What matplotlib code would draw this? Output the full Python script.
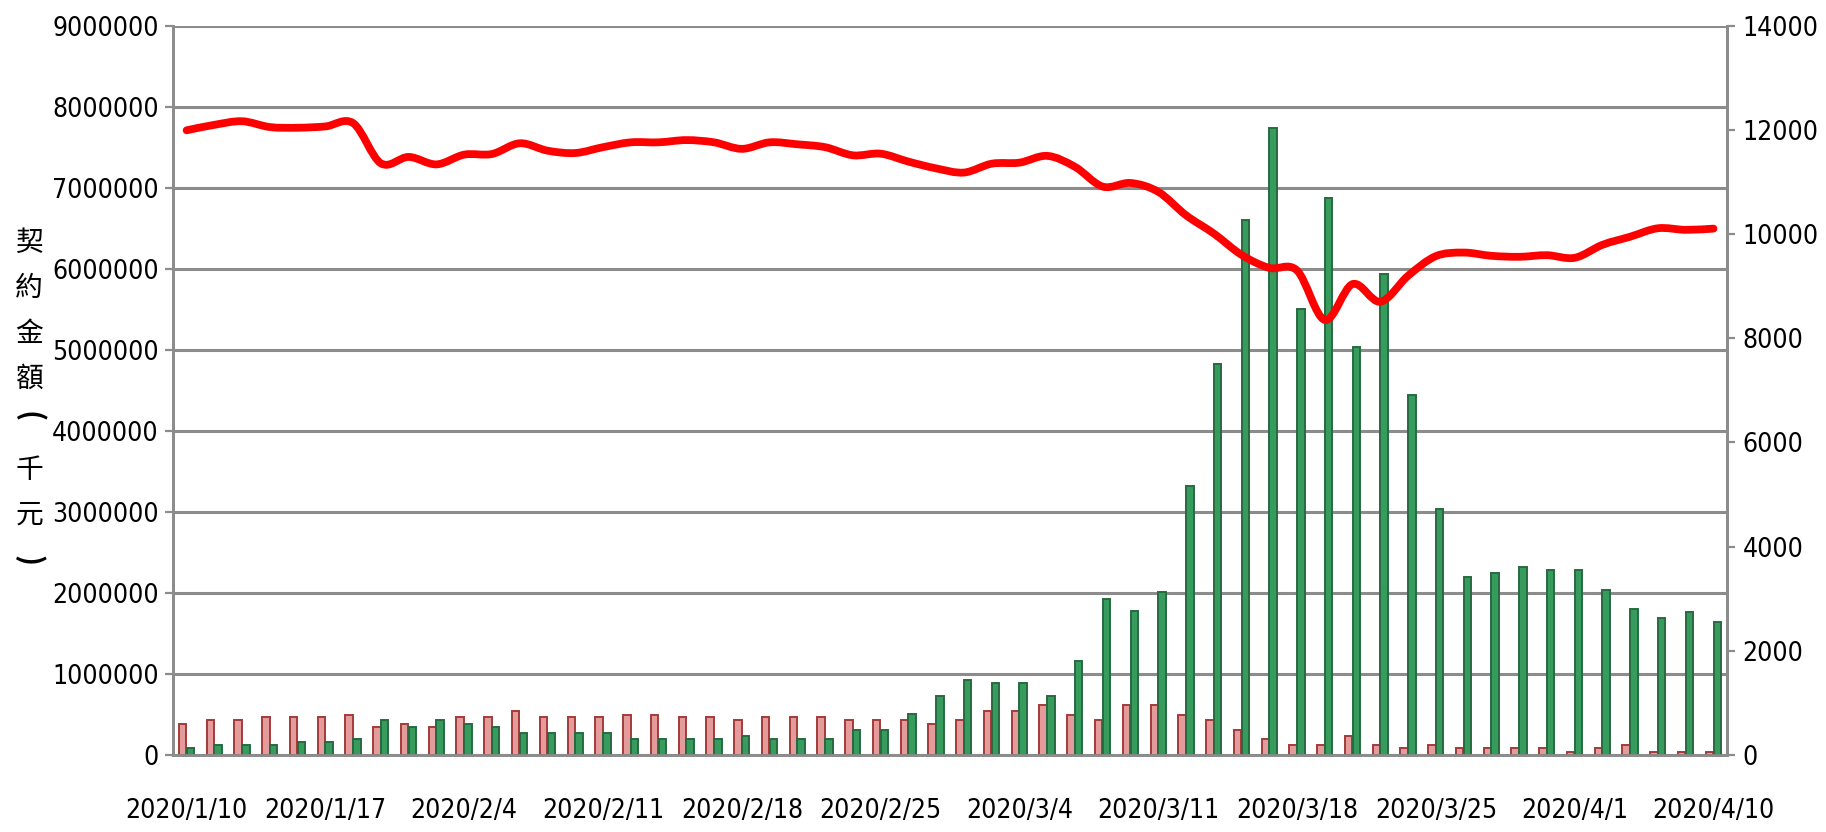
import numpy as np
import matplotlib
matplotlib.use('Agg')
import matplotlib.pyplot as plt
from matplotlib import font_manager as fm
from matplotlib.font_manager import FontProperties
from matplotlib.path import Path
from matplotlib.patches import PathPatch
from matplotlib.ticker import FuncFormatter

# ---------------------
# 資料
# ---------------------
dates = ['2020/1/10', '2020/1/13', '2020/1/14', '2020/1/15', '2020/1/16', '2020/1/17',
         '2020/1/20', '2020/1/30', '2020/1/31', '2020/2/3', '2020/2/4',
         '2020/2/5', '2020/2/6', '2020/2/7', '2020/2/10', '2020/2/11',
         '2020/2/12', '2020/2/13', '2020/2/14', '2020/2/17', '2020/2/18',
         '2020/2/19', '2020/2/20', '2020/2/21', '2020/2/24', '2020/2/25',
         '2020/2/26', '2020/2/27', '2020/3/2', '2020/3/3', '2020/3/4',
         '2020/3/5', '2020/3/6', '2020/3/9', '2020/3/10', '2020/3/11',
         '2020/3/12', '2020/3/13', '2020/3/16', '2020/3/17', '2020/3/18',
         '2020/3/19', '2020/3/20', '2020/3/23', '2020/3/24', '2020/3/25',
         '2020/3/26', '2020/3/27', '2020/3/30', '2020/3/31', '2020/4/1',
         '2020/4/6', '2020/4/7', '2020/4/8', '2020/4/9', '2020/4/10']

# 粉紅柱 (千元)
amount_red = [388000, 428000, 428000, 464000, 464000, 464000,
              500000, 352000, 388000, 352000, 464000,
              464000, 540000, 464000, 464000, 464000,
              500000, 500000, 464000, 464000, 428000,
              464000, 464000, 464000, 428000, 428000,
              428000, 388000, 428000, 544000, 544000,
              616000, 500000, 428000, 616000, 616000,
              500000, 428000, 312000, 200000, 120000,
              120000, 240000, 120000, 84000, 120000,
              84000, 84000, 84000, 84000, 42000,
              84000, 120000, 42000, 42000, 42000]

# 綠柱 (千元)
amount_green = [84000, 120000, 120000, 120000, 160000, 160000,
                200000, 428000, 352000, 428000, 388000,
                352000, 276000, 276000, 276000, 276000,
                200000, 200000, 200000, 200000, 236000,
                200000, 200000, 200000, 312000, 312000,
                504000, 732000, 924000, 888000, 888000,
                732000, 1156000, 1925000, 1780000, 2010000,
                3320000, 4830000, 6600000, 7740000, 5500000,
                6870000, 5030000, 5930000, 4440000, 3040000,
                2200000, 2240000, 2320000, 2280000, 2280000,
                2040000, 1800000, 1690000, 1770000, 1640000]

# 紅線 (右軸)
index_line = [11991, 12096, 12165, 12053, 12040, 12065,
              12128, 11356, 11480, 11337, 11524,
              11536, 11742, 11600, 11555, 11667,
              11760, 11760, 11803, 11760, 11635,
              11760, 11722, 11667, 11511, 11542,
              11390, 11260, 11180, 11350, 11370,
              11500, 11290, 10910, 10980, 10810,
              10360, 10010, 9600, 9350, 9300,
              8350, 9040, 8700, 9200, 9576,
              9644, 9582, 9563, 9594, 9544,
              9793, 9949, 10111, 10080, 10104]

label_step = 5
ylabel_chars = ['契', '約', '金', '額', '(', '千', '元', ')']

# ---------------------
# 字型: 盡量找窄體
# ---------------------
narrow = None
for f in fm.fontManager.ttflist:
    if f.style != 'normal' or f.weight not in (400, 'normal', 'regular'):
        continue
    if 'Narrow' in f.name or 'Condensed' in f.name or f.stretch in ('condensed', 'semi-condensed'):
        narrow = f.fname
        break
if narrow:
    base_fp = FontProperties(fname=narrow)
else:
    base_fp = FontProperties(family='Liberation Sans')
cjk_font = ['Noto Sans CJK TC', 'DejaVu Sans']
grid_c = '#8c8c8c'

fig = plt.figure(figsize=(18.26, 8.32), dpi=100)

# 依原圖 "9000000" 寬度決定字級
r = fig.canvas.get_renderer()
probe = fig.text(0, 0, '9000000', fontproperties=base_fp.copy())
probe.set_fontsize(10)
num_size = min(10 * 106 / probe.get_window_extent(r).width, 26)
probe.remove()
num_fp = base_fp.copy()
num_fp.set_size(num_size)

ax = fig.add_axes([0.0946, 0.0925, 0.8514, 0.8767])
ax2 = ax.twinx()

x = np.arange(len(dates))
w = 0.27
ax.bar(x - w / 2 - 0.01, amount_red, width=w, color='#e39c9b', edgecolor='#a33b3a', linewidth=1.4, zorder=3)
ax.bar(x + w / 2, amount_green, width=w, color='#379b5d', edgecolor='#276b41', linewidth=1.4, zorder=3)

ax.set_xlim(-0.5, len(dates) - 0.5)
ax.set_ylim(0, 9000000)
ax.set_yticks(np.arange(0, 9000001, 1000000))
ax.yaxis.set_major_formatter(FuncFormatter(lambda v, p: f'{int(v)}'))
ax.set_axisbelow(True)
ax.yaxis.grid(True, color=grid_c, linewidth=2.2)

ax.set_xticks(x[::label_step])
ax.set_xticklabels(dates[::label_step])
ax.tick_params(axis='x', length=0, pad=31)
ax.tick_params(axis='y', length=6, width=1.6, color=grid_c, pad=4)

ax.spines['top'].set_visible(False)
ax2.spines['top'].set_visible(False)
for a in (ax, ax2):
    for s in ['left', 'right', 'bottom']:
        a.spines[s].set_color(grid_c)
        a.spines[s].set_linewidth(2.0)

# 右軸
ax2.set_ylim(0, 14000)
ax2.set_yticks(np.arange(0, 14001, 2000))
ax2.tick_params(axis='y', length=6, width=1.6, color=grid_c, pad=5)

# 平滑紅線 (Catmull-Rom -> Bezier)
yv = np.array(index_line, dtype=float)
pts = np.column_stack([x, yv])
verts = [tuple(pts[0])]
codes = [Path.MOVETO]
n = len(pts)
for i in range(n - 1):
    p0 = pts[max(i - 1, 0)]
    p1 = pts[i]
    p2 = pts[i + 1]
    p3 = pts[min(i + 2, n - 1)]
    c1 = p1 + (p2 - p0) / 6
    c2 = p2 - (p3 - p1) / 6
    verts += [tuple(c1), tuple(c2), tuple(p2)]
    codes += [Path.CURVE4] * 3
ax2.add_patch(PathPatch(Path(verts, codes), fill=False, edgecolor='#ff0000',
                        linewidth=5.6, capstyle='round', joinstyle='round', zorder=5))

for lab in ax.get_xticklabels() + ax.get_yticklabels() + ax2.get_yticklabels():
    lab.set_fontproperties(num_fp)

# 縱向標題 (括號轉 90 度)
y0, step = 243, 45.3
for k, ch in enumerate(ylabel_chars):
    yy = y0 + step * k
    if ch == '(':
        fig.text(0.0160, 1 - (yy - 8) / 832, ch, family=cjk_font, fontsize=21,
                 fontweight='bold', rotation=-90, ha='center', va='center')
    elif ch == ')':
        fig.text(0.0160, 1 - yy / 832, ch, family=cjk_font, fontsize=21,
                 fontweight='bold', rotation=-90, ha='center', va='center')
    else:
        fig.text(0.0160, 1 - yy / 832, ch, family=cjk_font, fontsize=20,
                 ha='center', va='center')

fig.savefig('out.png', dpi=100)
